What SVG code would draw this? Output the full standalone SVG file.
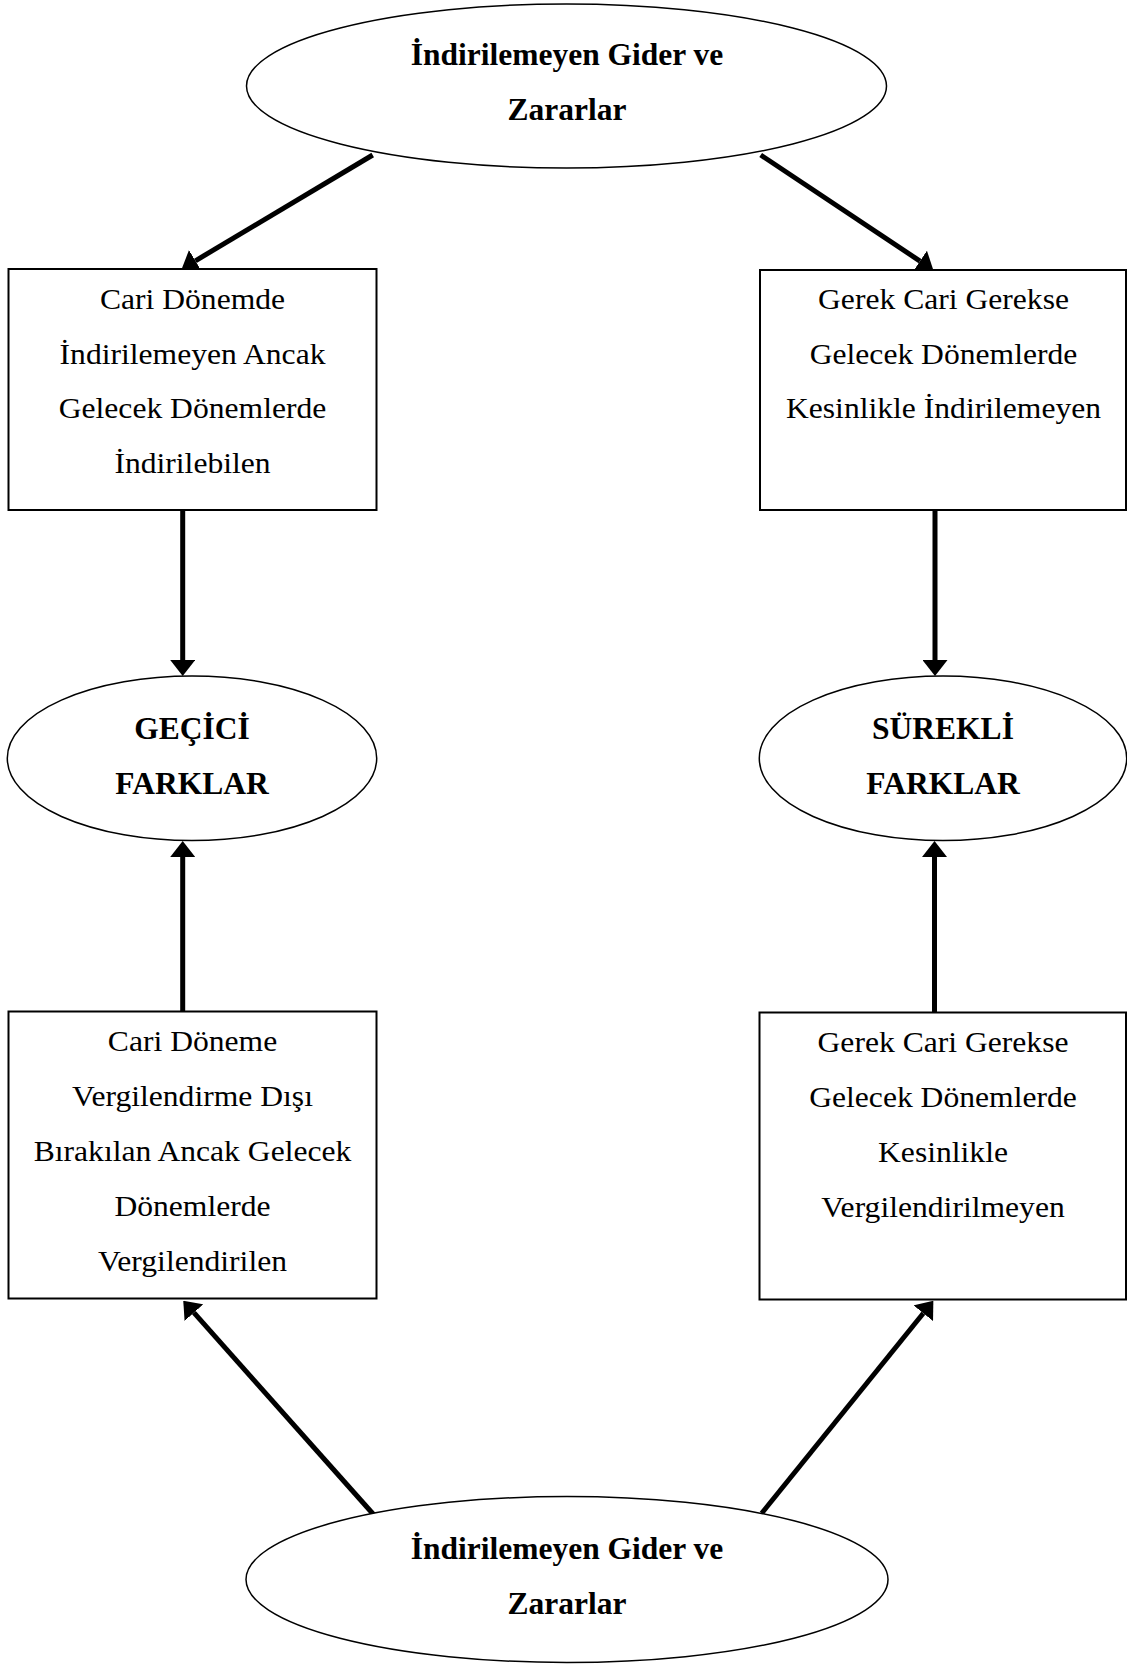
<svg xmlns="http://www.w3.org/2000/svg" width="1127" height="1664" viewBox="0 0 1127 1664">
<style>
.box{fill:#fff;stroke:#000;stroke-width:2}
.ell{fill:#fff;stroke:#000;stroke-width:1.5}
.t{font-family:"Liberation Serif","Times New Roman",serif;font-size:29px;text-anchor:middle;fill:#000}
.b{font-family:"Liberation Serif","Times New Roman",serif;font-size:31.5px;font-weight:bold;text-anchor:middle;fill:#000}
.c{stroke:#000;stroke-width:5;fill:none;marker-end:url(#ah)}
</style>
<defs>
<marker id="ah" markerUnits="userSpaceOnUse" markerWidth="16" markerHeight="25" viewBox="0 0 16 25" refX="0" refY="12.5" orient="auto">
<path d="M0,0 L16,12.5 L0,25 z" fill="#000"/>
</marker>
</defs>
<rect width="1127" height="1664" fill="#fff"/>
<g id="connectors">
<line class="c" x1="372.7" y1="155" x2="195.4" y2="260.8"/>
<line class="c" x1="760.7" y1="155" x2="920" y2="261.1"/>
<line class="c" x1="182.7" y1="510" x2="182.7" y2="660"/>
<line class="c" x1="935" y1="510" x2="935" y2="660"/>
<line class="c" x1="182.7" y1="1011" x2="182.7" y2="857"/>
<line class="c" x1="934.5" y1="1012" x2="934.5" y2="857"/>
<line class="c" x1="374" y1="1515" x2="193.9" y2="1312.7"/>
<line class="c" x1="761.7" y1="1513.3" x2="923.3" y2="1313.2"/>
</g>
<g id="top-ellipse">
<ellipse class="ell" cx="566.5" cy="86" rx="320" ry="82"/>
<text class="b" x="567" y="65">İndirilemeyen Gider ve</text>
<text class="b" x="567" y="120">Zararlar</text>
</g>
<g id="box-top-left">
<rect class="box" x="8.5" y="269" width="368" height="241"/>
<text class="t" transform="translate(192.5 0) scale(1.09 1)" x="0" y="309.5">Cari Dönemde</text>
<text class="t" transform="translate(192.5 0) scale(1.09 1)" x="0" y="364">İndirilemeyen Ancak</text>
<text class="t" transform="translate(192.5 0) scale(1.09 1)" x="0" y="418.5">Gelecek Dönemlerde</text>
<text class="t" transform="translate(192.5 0) scale(1.09 1)" x="0" y="473">İndirilebilen</text>
</g>
<g id="box-top-right">
<rect class="box" x="760" y="270" width="366" height="240"/>
<text class="t" transform="translate(943.5 0) scale(1.09 1)" x="0" y="309.5">Gerek Cari Gerekse</text>
<text class="t" transform="translate(943.5 0) scale(1.09 1)" x="0" y="364">Gelecek Dönemlerde</text>
<text class="t" transform="translate(943.5 0) scale(1.09 1)" x="0" y="418.5">Kesinlikle İndirilemeyen</text>
</g>
<g id="gecici">
<ellipse class="ell" cx="192" cy="758.3" rx="184.7" ry="82.3"/>
<text class="b" x="192" y="738.5">GEÇİCİ</text>
<text class="b" x="192" y="793.5">FARKLAR</text>
</g>
<g id="surekli">
<ellipse class="ell" cx="943" cy="758.3" rx="183.7" ry="82.3"/>
<text class="b" x="943" y="738.5">SÜREKLİ</text>
<text class="b" x="943" y="793.5">FARKLAR</text>
</g>
<g id="box-bottom-left">
<rect class="box" x="8.5" y="1011.5" width="368" height="287"/>
<text class="t" transform="translate(192.5 0) scale(1.09 1)" x="0" y="1051.5">Cari Döneme</text>
<text class="t" transform="translate(192.5 0) scale(1.09 1)" x="0" y="1106">Vergilendirme Dışı</text>
<text class="t" transform="translate(192.5 0) scale(1.09 1)" x="0" y="1161">Bırakılan Ancak Gelecek</text>
<text class="t" transform="translate(192.5 0) scale(1.09 1)" x="0" y="1216">Dönemlerde</text>
<text class="t" transform="translate(192.5 0) scale(1.09 1)" x="0" y="1271">Vergilendirilen</text>
</g>
<g id="box-bottom-right">
<rect class="box" x="759.5" y="1012.5" width="366.5" height="287"/>
<text class="t" transform="translate(943 0) scale(1.09 1)" x="0" y="1052.5">Gerek Cari Gerekse</text>
<text class="t" transform="translate(943 0) scale(1.09 1)" x="0" y="1107">Gelecek Dönemlerde</text>
<text class="t" transform="translate(943 0) scale(1.09 1)" x="0" y="1162">Kesinlikle</text>
<text class="t" transform="translate(943 0) scale(1.09 1)" x="0" y="1217">Vergilendirilmeyen</text>
</g>
<g id="bottom-ellipse">
<ellipse class="ell" cx="567" cy="1579.5" rx="321" ry="83"/>
<text class="b" x="567" y="1558.5">İndirilemeyen Gider ve</text>
<text class="b" x="567" y="1613.5">Zararlar</text>
</g>
</svg>
